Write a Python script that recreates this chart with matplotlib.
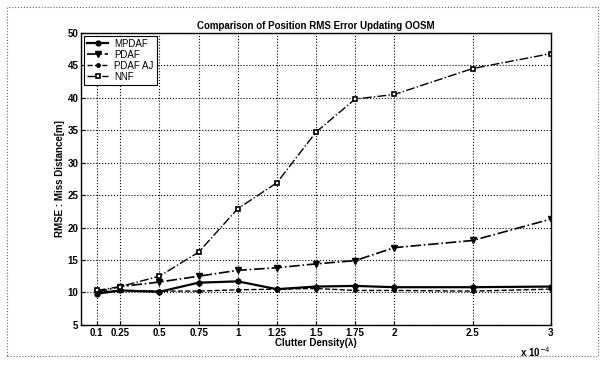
import numpy as np
import matplotlib.pyplot as plt
from matplotlib.patches import Rectangle

# clutter density (x 1e-4)
density = [0.1, 0.25, 0.5, 0.75, 1.0, 1.25, 1.5, 1.75, 2.0, 2.5, 3.0]
tick_labels = ['0.1', '0.25', '0.5', '0.75', '1', '1.25', '1.5', '1.75', '2', '2.5', '3']

mpdaf = [9.8, 10.3, 10.1, 11.5, 11.7, 10.5, 10.9, 11.0, 10.8, 10.8, 10.9]
pdaf = [10.0, 10.9, 11.6, 12.5, 13.4, 13.8, 14.4, 14.9, 16.9, 18.0, 21.3]
pdaf_aj = [10.0, 10.3, 10.2, 10.2, 10.4, 10.5, 10.6, 10.3, 10.3, 10.2, 10.5]
nnf = [10.3, 10.9, 12.5, 16.2, 22.9, 26.9, 34.7, 39.8, 40.5, 44.5, 46.8]

plt.rcParams['font.family'] = ['Liberation Sans', 'DejaVu Sans']
plt.rcParams['font.size'] = 7

fig = plt.figure(figsize=(6.06, 3.65), dpi=100)
ax = fig.add_axes([0.134, 0.110, 0.775, 0.800])

ax.plot(density, mpdaf, '-o', color='black', lw=1.6, ms=3.5, label='MPDAF')
ax.plot(density, pdaf, '-.v', color='black', lw=1.2, ms=4.5, label='PDAF')
ax.plot(density, pdaf_aj, '--.', color='black', lw=1.0, ms=5, label='PDAF AJ')
ax.plot(density, nnf, '-.s', color='black', lw=1.0, ms=3.2, mfc='white', mew=1.2, label='NNF')

ax.set_xlim(0, 3)
ax.set_ylim(5, 50)
ax.set_xticks(density)
ax.set_xticklabels(tick_labels, fontweight='bold')
ax.set_yticks(np.arange(5, 51, 5))
ax.set_yticklabels([str(v) for v in range(5, 51, 5)], fontweight='bold')
ax.grid(True, linestyle=':', color='black', lw=0.8)
ax.tick_params(direction='in', length=3, width=0.8, pad=2)
for s in ax.spines.values():
    s.set_linewidth(1.0)

ax.set_title('Comparison of Position RMS Error Updating OOSM', fontsize=7, fontweight='bold', pad=3)
ax.set_xlabel('Clutter Density(\u03bb)', fontsize=7, fontweight='bold', labelpad=0)
ax.set_ylabel('RMSE : Miss Distance[m]', fontsize=7, fontweight='bold', labelpad=2)
ax.text(1.0, -0.07, r'x 10$^{-4}$', transform=ax.transAxes, fontsize=7,
        fontweight='bold', ha='right', va='top')

leg = ax.legend(loc='upper left', fontsize=7, fancybox=False, framealpha=1,
                edgecolor='black', borderpad=0.3, labelspacing=0.1,
                handlelength=2.2, handletextpad=0.6, borderaxespad=0.3)
leg.get_frame().set_linewidth(0.8)

# faint scanned border
fig.patches.append(Rectangle((0.012, 0.025), 0.975, 0.955, transform=fig.transFigure,
                             fill=False, ls=':', lw=0.8, color='0.4'))

fig.savefig('out.png', dpi=100)
